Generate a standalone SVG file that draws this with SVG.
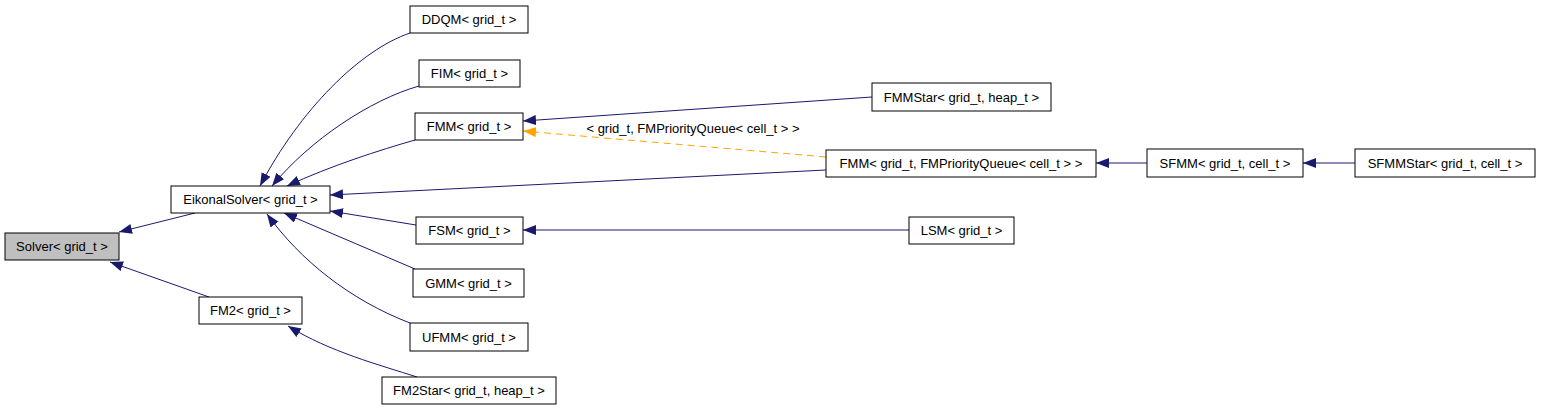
<svg xmlns="http://www.w3.org/2000/svg" width="1541" height="411" viewBox="0 0 1541 411">
<style>
.n rect{fill:#fff;stroke:#000;stroke-width:1}
.n text,.lbl{font-family:"Liberation Sans",Arial,sans-serif;font-size:13px;fill:#000;text-anchor:middle}
.e{fill:none;stroke:#191970;stroke-width:1}
.d{fill:none;stroke:#ffa500;stroke-width:1;stroke-dasharray:7,5}
</style>
<defs>
<marker id="a" markerUnits="userSpaceOnUse" markerWidth="14" markerHeight="11" refX="13" refY="5" orient="auto"><path d="M0,0 L13,5 L0,10 z" fill="#191970"/></marker>
<marker id="o" markerUnits="userSpaceOnUse" markerWidth="14" markerHeight="11" refX="13" refY="5" orient="auto"><path d="M0,0 L13,5 L0,10 z" fill="#ffa500"/></marker>
</defs>
<rect width="1541" height="411" fill="#fff"/>
<g id="edges">
<path class="e" d="M195,213 L119,232" marker-end="url(#a)"/>
<path class="e" d="M209,297 L110,262" marker-end="url(#a)"/>
<path class="e" d="M410,33 C360,50 300,110 260,186" marker-end="url(#a)"/>
<path class="e" d="M419,86 C370,100 310,140 272,186" marker-end="url(#a)"/>
<path class="e" d="M415,140 C380,150 330,166 287,186" marker-end="url(#a)"/>
<path class="e" d="M826,170 L330,195" marker-end="url(#a)"/>
<path class="e" d="M416,225 L330,211" marker-end="url(#a)"/>
<path class="e" d="M415,269 L284,213" marker-end="url(#a)"/>
<path class="e" d="M410,323 C350,300 300,260 267,214" marker-end="url(#a)"/>
<path class="e" d="M417,377 C380,365 330,352 288,326" marker-end="url(#a)"/>
<path class="e" d="M872,97 L523,121" marker-end="url(#a)"/>
<path class="d" d="M826,157 L523,131" marker-end="url(#o)"/>
<path class="e" d="M909,230 L523,230" marker-end="url(#a)"/>
<path class="e" d="M1147,163 L1096,163" marker-end="url(#a)"/>
<path class="e" d="M1355,163 L1303,163" marker-end="url(#a)"/>
<text class="lbl" x="693" y="133">&lt; grid_t, FMPriorityQueue&lt; cell_t &gt; &gt;</text>
</g>
<g id="Solver" class="n"><rect x="5" y="233" width="114" height="27" style="fill:#bfbfbf"/><text x="62" y="251">Solver&lt; grid_t &gt;</text></g>
<g id="EikonalSolver" class="n"><rect x="171" y="186" width="159" height="27"/><text x="250.5" y="204">EikonalSolver&lt; grid_t &gt;</text></g>
<g id="FM2" class="n"><rect x="199" y="297" width="103" height="27"/><text x="250.5" y="315">FM2&lt; grid_t &gt;</text></g>
<g id="DDQM" class="n"><rect x="410" y="6" width="118" height="27"/><text x="469" y="24">DDQM&lt; grid_t &gt;</text></g>
<g id="FIM" class="n"><rect x="419" y="60" width="101" height="27"/><text x="469.5" y="78">FIM&lt; grid_t &gt;</text></g>
<g id="FMM" class="n"><rect x="415" y="113" width="108" height="27"/><text x="469" y="131">FMM&lt; grid_t &gt;</text></g>
<g id="FSM" class="n"><rect x="416" y="217" width="107" height="27"/><text x="469.5" y="235">FSM&lt; grid_t &gt;</text></g>
<g id="GMM" class="n"><rect x="413" y="269" width="111" height="28"/><text x="468.5" y="288">GMM&lt; grid_t &gt;</text></g>
<g id="UFMM" class="n"><rect x="410" y="323" width="118" height="28"/><text x="469" y="342">UFMM&lt; grid_t &gt;</text></g>
<g id="FM2Star" class="n"><rect x="382" y="377" width="174" height="27"/><text x="469" y="395">FM2Star&lt; grid_t, heap_t &gt;</text></g>
<g id="FMMStar" class="n"><rect x="872" y="83" width="179" height="28"/><text x="961.5" y="102">FMMStar&lt; grid_t, heap_t &gt;</text></g>
<g id="FMM_PQ" class="n"><rect x="826" y="150" width="270" height="27"/><text x="961" y="168">FMM&lt; grid_t, FMPriorityQueue&lt; cell_t &gt; &gt;</text></g>
<g id="LSM" class="n"><rect x="909" y="217" width="105" height="27"/><text x="961.5" y="235">LSM&lt; grid_t &gt;</text></g>
<g id="SFMM" class="n"><rect x="1147" y="149" width="156" height="28"/><text x="1225" y="168">SFMM&lt; grid_t, cell_t &gt;</text></g>
<g id="SFMMStar" class="n"><rect x="1355" y="149" width="180" height="28"/><text x="1445" y="168">SFMMStar&lt; grid_t, cell_t &gt;</text></g>
</svg>
